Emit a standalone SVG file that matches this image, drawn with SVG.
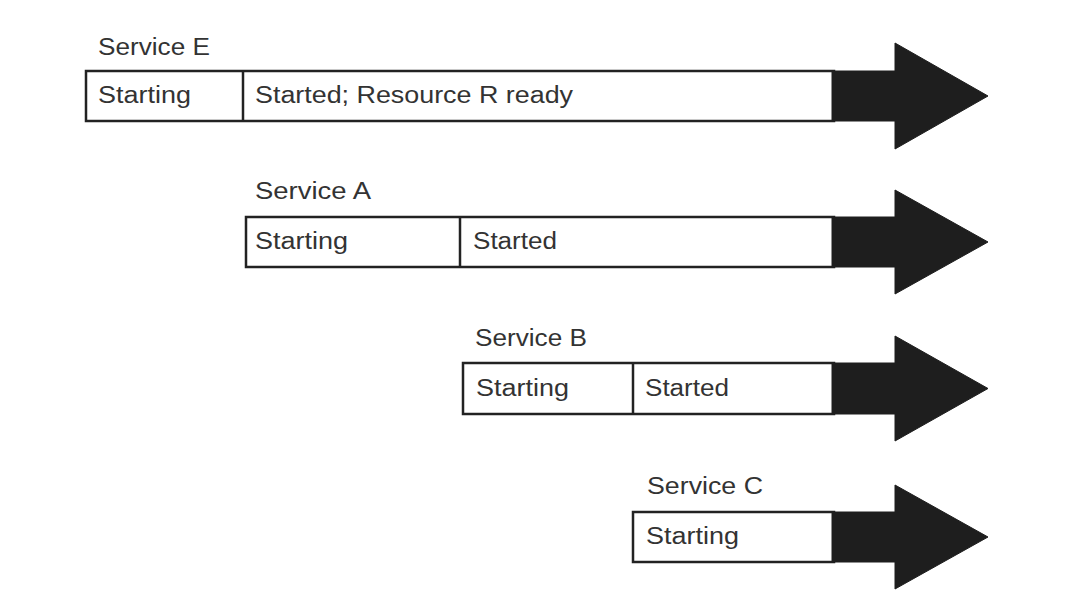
<svg xmlns="http://www.w3.org/2000/svg" width="1092" height="608" viewBox="0 0 1092 608">
<style>
.bar{fill:#fff;stroke:#222;stroke-width:2.5}
.div{stroke:#222;stroke-width:2.5}
.head{fill:#1e1e1e;stroke:#1e1e1e;stroke-width:1}
text{font-family:"Liberation Sans",Arial,sans-serif;font-size:23px;fill:#333}
</style>
<rect width="1092" height="608" fill="#fff"/>
<g id="connectors"></g>
<g id="serviceE">
<text x="98" y="55" textLength="112" lengthAdjust="spacingAndGlyphs">Service E</text>
<rect class="bar" x="86" y="71" width="748" height="50"/>
<polygon class="head" points="832,71 895,71 895,43 988,96 895,149 895,121 832,121"/>
<line class="div" x1="243" y1="71" x2="243" y2="121"/>
<text x="98" y="103" textLength="93" lengthAdjust="spacingAndGlyphs">Starting</text>
<text x="255" y="103" textLength="318" lengthAdjust="spacingAndGlyphs">Started; Resource R ready</text>
</g>
<g id="serviceA">
<text x="255" y="199" textLength="116" lengthAdjust="spacingAndGlyphs">Service A</text>
<rect class="bar" x="246" y="217" width="588" height="50"/>
<polygon class="head" points="832,217 895,217 895,190 988,242 895,294 895,267 832,267"/>
<line class="div" x1="460" y1="217" x2="460" y2="267"/>
<text x="255" y="249" textLength="93" lengthAdjust="spacingAndGlyphs">Starting</text>
<text x="473" y="249" textLength="84" lengthAdjust="spacingAndGlyphs">Started</text>
</g>
<g id="serviceB">
<text x="475" y="346" textLength="112" lengthAdjust="spacingAndGlyphs">Service B</text>
<rect class="bar" x="463" y="363" width="371" height="51"/>
<polygon class="head" points="832,363 895,363 895,336 988,388.5 895,441 895,414 832,414"/>
<line class="div" x1="633" y1="363" x2="633" y2="414"/>
<text x="476" y="396" textLength="93" lengthAdjust="spacingAndGlyphs">Starting</text>
<text x="645" y="396" textLength="84" lengthAdjust="spacingAndGlyphs">Started</text>
</g>
<g id="serviceC">
<text x="647" y="494" textLength="116" lengthAdjust="spacingAndGlyphs">Service C</text>
<rect class="bar" x="633" y="512" width="201" height="50"/>
<polygon class="head" points="832,512 895,512 895,485 988,537 895,589 895,562 832,562"/>
<text x="646" y="544" textLength="93" lengthAdjust="spacingAndGlyphs">Starting</text>
</g>
</svg>
